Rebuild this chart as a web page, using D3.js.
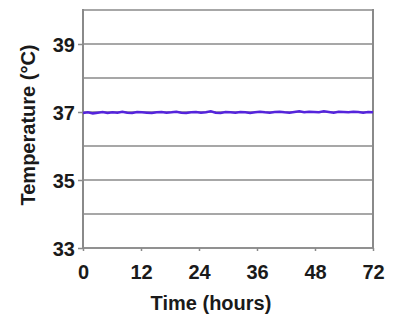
<!DOCTYPE html>
<html><head><meta charset="utf-8">
<script src="https://cdn.jsdelivr.net/npm/d3@7"></script>
<style>
html,body{margin:0;padding:0;background:#fff;}
text{font-family:"Liberation Sans",Arial,sans-serif;font-weight:bold;fill:#1a1a1a;}
</style></head>
<body>
<svg id="c" width="401" height="320"></svg>
<script>
const xTickLabels = ["0","12","24","36","48","72"];
const yTicks = [33,35,37,39];
const yGrid = [33,34,35,36,37,38,39,40];
const temperature = [36.97,36.99,36.96,36.98,37.00,36.97,36.99,36.98,37.01,36.98,
  36.97,37.00,36.99,36.98,36.97,36.99,37.00,36.98,36.99,37.01,
  36.98,36.97,36.99,37.00,36.98,36.99,37.02,36.98,36.97,37.00,
  36.99,36.98,37.00,36.99,36.97,36.99,37.01,36.99,36.98,37.00,
  37.01,36.99,36.98,37.00,37.02,36.99,37.01,37.00,36.99,37.02,
  37.00,36.98,37.01,37.00,36.99,37.01,37.00,36.98,37.00,36.99];

const svg = d3.select("#c");
const L = 83, R = 373, T = 10, B = 248;
const y = d3.scaleLinear().domain([33,40]).range([B,T]);
const xAxisScale = d3.scalePoint().domain(xTickLabels).range([L,R]);
const x = d3.scaleLinear().domain([0, temperature.length-1]).range([L,R]);
const gray = "#8a8a8a";

// gridlines
svg.append("g").selectAll("line").data(yGrid).join("line")
  .attr("x1",L).attr("x2",R).attr("y1",d=>y(d)).attr("y2",d=>y(d))
  .attr("stroke",gray).attr("stroke-width",1.5);
// right border
svg.append("line").attr("x1",R).attr("x2",R).attr("y1",T-1).attr("y2",B)
  .attr("stroke",gray).attr("stroke-width",2);

// y axis
const ya = svg.append("g").attr("transform",`translate(${L},0)`)
  .call(d3.axisLeft(y).tickValues(yTicks).tickSize(5).tickPadding(3).tickFormat(d3.format("d")));
ya.select(".domain").attr("stroke",gray).attr("stroke-width",2).attr("d",`M0,${T-1}V${B}`);
ya.selectAll(".tick line").attr("stroke",gray).attr("stroke-width",1.5);
ya.selectAll("text").style("font-size","20px").attr("dy","0.36em");

// x axis
const xa = svg.append("g").attr("transform",`translate(0,${B})`)
  .call(d3.axisBottom(xAxisScale).tickSize(3).tickPadding(14));
xa.select(".domain").attr("stroke",gray).attr("stroke-width",1.5).attr("d",`M${L},0H${R}`);
xa.selectAll(".tick line").attr("stroke",gray).attr("stroke-width",1.5);
xa.selectAll("text").style("font-size","20px");

// data line
svg.append("path").datum(temperature)
  .attr("fill","none").attr("stroke","#5524dc").attr("stroke-width",2.5)
  .attr("d", d3.line().x((d,i)=>x(i)).y(d=>y(d)));

// axis titles
svg.append("text").attr("x",211).attr("y",310).attr("text-anchor","middle")
  .style("font-size","20px").text("Time (hours)");
svg.append("text").attr("transform","translate(35,125) rotate(-90)").attr("text-anchor","middle")
  .style("font-size","20px").text("Temperature (°C)");
</script>
</body></html>
